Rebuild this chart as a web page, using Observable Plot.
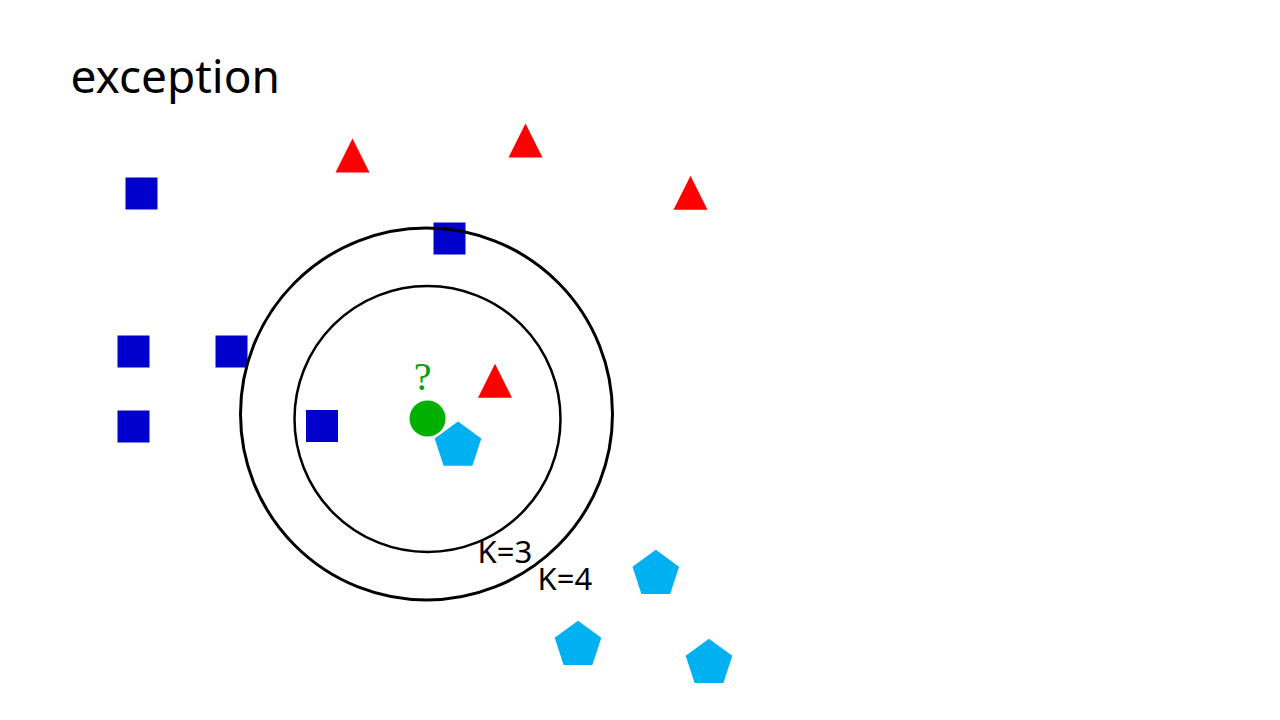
<!DOCTYPE html>
<html>
<head>
<meta charset="utf-8">
<script src="https://cdn.jsdelivr.net/npm/d3@7"></script>
<script src="https://cdn.jsdelivr.net/npm/@observablehq/plot@0.6"></script>
<style>
  html, body { margin: 0; padding: 0; background: #ffffff; }
  #chart svg { display: block; }
</style>
</head>
<body>
<div id="chart"></div>
<script>
// ---- data (diagram coordinates, x right, y down) ----
const titleText = ["exception"];
const titlePos = [{x: 70, y: 92}];

const squaresX = [141, 449, 133, 231, 133, 321.5];
const squaresY = [193, 238, 351, 351, 426, 425.5];

const trianglesX = [352, 525, 690, 494.5];
const trianglesY = [155, 140, 192.3, 380.3];

const pentagonsX = [457.5, 655.3, 577.5, 708.5];
const pentagonsY = [445.5, 573.8, 644.8, 662.8];

const queryX = [427];
const queryY = [418];
const queryLabel = ["?"];
const queryLabelPos = [{x: 422, y: 389}];

const ringLabels = ["K=3", "K=4"];
const ringCx = [427, 426];
const ringCy = [418.5, 413.5];
const ringR = [133, 186];
const ringLabelX = [477, 537];
const ringLabelY = [562, 589];

// ---- tables built from the arrays ----
const squares = squaresX.map((x, i) => ({x, y: squaresY[i]}));
const triangles = trianglesX.map((x, i) => ({x, y: trianglesY[i]}));
const pentagons = pentagonsX.map((x, i) => ({x, y: pentagonsY[i]}));
const query = queryX.map((x, i) => ({x, y: queryY[i]}));
const rings = ringLabels.map((k, i) => ({k, x: ringCx[i], y: ringCy[i], r: ringR[i], lx: ringLabelX[i], ly: ringLabelY[i]}));

// ---- custom symbols (size = pi * r^2) ----
const rad = size => Math.sqrt(size / Math.PI);
const squareSym = {draw(ctx, size) { const r = rad(size); ctx.rect(-r, -r, 2 * r, 2 * r); }};
const triangleSym = {draw(ctx, size) {
  const r = rad(size);
  ctx.moveTo(0, -r); ctx.lineTo(r, r); ctx.lineTo(-r, r); ctx.closePath();
}};
const pentagonSym = {draw(ctx, size) {
  const r = rad(size);
  for (let i = 0; i < 5; ++i) {
    const a = -Math.PI / 2 + i * 2 * Math.PI / 5;
    const px = r * Math.cos(a), py = r * Math.sin(a);
    if (i === 0) ctx.moveTo(px, py); else ctx.lineTo(px, py);
  }
  ctx.closePath();
}};

const chart = Plot.plot({
  width: 1280,
  height: 720,
  margin: 0,
  x: {domain: [0, 1280], range: [0, 1280], axis: null},
  y: {domain: [0, 720], range: [0, 720], axis: null},
  style: {background: "#ffffff"},
  marks: [
    Plot.text(titlePos, {x: "x", y: "y", text: () => titleText[0], textAnchor: "start", lineAnchor: "bottom",
      fontSize: 46, fill: "#000000", fontFamily: "'Noto Sans', 'Open Sans', sans-serif"}),
    Plot.dot(squares, {x: "x", y: "y", r: 16, symbol: squareSym, fill: "#0000CC", stroke: "none"}),
    Plot.dot(triangles, {x: "x", y: "y", r: 17, symbol: triangleSym, fill: "#FF0000", stroke: "none"}),
    Plot.dot(pentagons, {x: "x", y: "y", r: 24.5, symbol: pentagonSym, fill: "#00B0F0", stroke: "none"}),
    Plot.dot(query, {x: "x", y: "y", r: 18, fill: "#00B000", stroke: "none"}),
    Plot.text(queryLabelPos, {x: "x", y: "y", text: () => queryLabel[0], lineAnchor: "bottom",
      fontSize: 40, fill: "#00A000", fontFamily: "'Liberation Serif', 'DejaVu Serif', serif"}),
    Plot.dot(rings.slice(0, 1), {x: "x", y: "y", r: rings[0].r, fill: "none", stroke: "#000000", strokeWidth: 2.5}),
    Plot.dot(rings.slice(1, 2), {x: "x", y: "y", r: rings[1].r, fill: "none", stroke: "#000000", strokeWidth: 3}),
    Plot.text(rings, {x: "lx", y: "ly", text: "k", textAnchor: "start", lineAnchor: "bottom",
      fontSize: 31, fill: "#000000", fontFamily: "'Noto Sans', 'Open Sans', sans-serif"})
  ]
});
document.getElementById("chart").appendChild(chart);
</script>
</body>
</html>
